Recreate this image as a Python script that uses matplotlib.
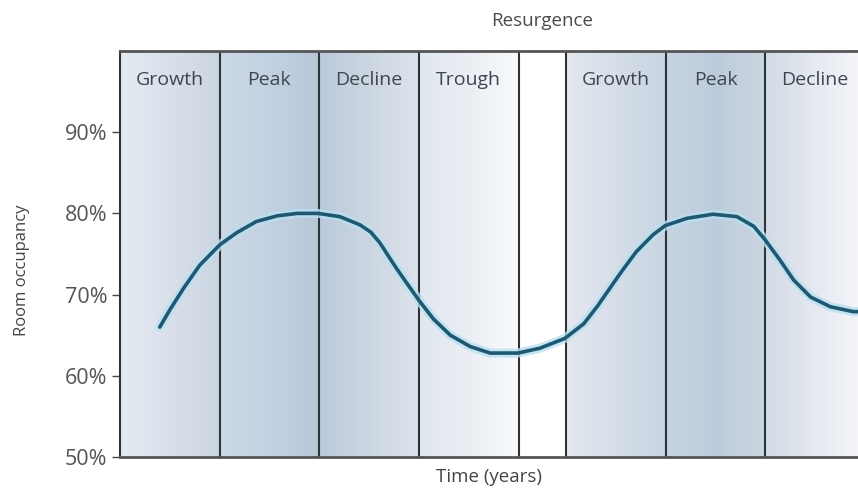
import numpy as np
import matplotlib
matplotlib.use("Agg")
import matplotlib.pyplot as plt
from matplotlib.colors import LinearSegmentedColormap

# ---- data ----
phase_labels = ["Growth", "Peak", "Decline", "Trough", "", "Growth", "Peak", "Decline"]
phase_edges = [0.0, 1.0, 2.0, 3.0, 4.01, 4.48, 5.49, 6.48, 7.48]
gap_label = "Resurgence"

time = [0.40, 0.50, 0.64, 0.80, 1.00, 1.17, 1.37, 1.58, 1.78, 1.99, 2.21, 2.41,
        2.52, 2.61, 2.78, 2.90, 3.01, 3.15, 3.32, 3.52, 3.72, 4.00, 4.22, 4.47, 4.66,
        4.80, 4.93, 5.05, 5.19, 5.36, 5.48, 5.70, 5.96, 6.20, 6.37, 6.48, 6.63,
        6.77, 6.94, 7.14, 7.37, 7.42]
occupancy = [66.0, 68.1, 70.8, 73.6, 76.1, 77.6, 79.0, 79.7, 80.0, 80.0, 79.6, 78.6,
             77.7, 76.4, 73.2, 71.1, 69.2, 67.0, 65.0, 63.6, 62.8, 62.8, 63.4, 64.6, 66.4,
             68.6, 70.9, 73.0, 75.3, 77.4, 78.5, 79.4, 79.9, 79.6, 78.4, 76.8, 74.3,
             71.8, 69.7, 68.5, 67.9, 67.9]

yticks = [50, 60, 70, 80, 90]
ytick_labels = ["50%", "60%", "70%", "80%", "90%"]

# ---- styles (gradient stops per phase) ----
phase_gradients = [
    ["#e6ebf2", "#d9e0ea", "#cad5e2"],
    ["#ccd8e5", "#c2d2e2", "#b8c7d8"],
    ["#bbc9da", "#ccd6e2", "#dde3eb"],
    ["#e1e7ef", "#ebeff4", "#f9fafc"],
    ["#ffffff", "#ffffff", "#ffffff"],
    ["#e4e8ef", "#d6dee8", "#c7d4e2"],
    ["#c7d3e0", "#bdccdc", "#cbd5e1"],
    ["#d3dbe5", "#e5e9f0", "#f7f8fb"],
]

plt.rcParams['font.family'] = ['Open Sans', 'DejaVu Sans']

fig = plt.figure(figsize=(8.58, 4.95), dpi=100)
ax = fig.add_axes([120/858, 38/495, 738/858, 406/495])

ymin, ymax = 50, 100
grad = np.linspace(0, 1, 256).reshape(1, -1)
for i in range(len(phase_labels)):
    x0, x1 = phase_edges[i], phase_edges[i + 1]
    cmap = LinearSegmentedColormap.from_list(f"g{i}", phase_gradients[i])
    ax.imshow(grad, extent=[x0, x1, ymin, ymax], aspect='auto', cmap=cmap,
              interpolation='bilinear', zorder=0)
    if i > 0:
        ax.axvline(x0, color="#2e3338", lw=1.5, zorder=2)
    if phase_labels[i]:
        ax.text((x0 + x1) / 2, 0.929, phase_labels[i], transform=ax.get_xaxis_transform(),
                ha='center', va='center', fontsize=14, color="#3e4650", zorder=3)

gx = (phase_edges[4] + phase_edges[5]) / 2
ax.text(gx, 1.074, gap_label, transform=ax.get_xaxis_transform(), ha='center',
        va='center', fontsize=13.5, color="#4a4a4a")

ax.plot(time, occupancy, color="#b8e0f2", lw=6.5, alpha=0.8, solid_capstyle='round',
        solid_joinstyle='round', zorder=4)
ax.plot(time, occupancy, color="#1f5870", lw=2.6, solid_capstyle='round',
        solid_joinstyle='round', zorder=5)

ax.set_xlim(0, 7.417)
ax.set_ylim(ymin, ymax)
ax.set_aspect('auto')

ax.set_yticks(yticks)
ax.set_yticklabels(ytick_labels)
ax.set_xticks([])
ax.tick_params(axis='y', direction='out', length=6, width=1, color="#444",
               labelsize=15.5, labelcolor="#555555", pad=3)

for s in ['top', 'bottom']:
    ax.spines[s].set_color("#555555")
    ax.spines[s].set_linewidth(2)
ax.spines['left'].set_color("#333333")
ax.spines['left'].set_linewidth(1.5)
ax.spines['right'].set_visible(False)

ax.set_xlabel("Time (years)", fontsize=13.5, color="#444444", labelpad=8)
ax.set_ylabel("Room occupancy", fontsize=12, color="#444444")
ax.yaxis.set_label_coords(-0.122, 0.46)

fig.savefig("out.png", dpi=100)
